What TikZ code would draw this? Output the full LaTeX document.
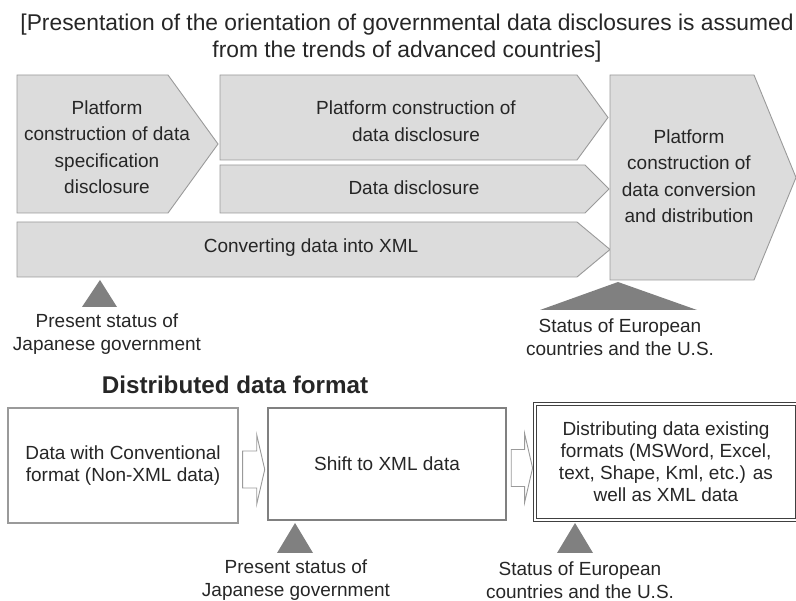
\documentclass[tikz,border=0pt]{standalone}
\usepackage{fontspec}
\setmainfont{Liberation Sans}
\usetikzlibrary{calc}

\definecolor{boxfill}{HTML}{DCDCDC}
\definecolor{boxline}{HTML}{9A9A9A}
\definecolor{markgray}{HTML}{808080}
\definecolor{ink}{HTML}{262626}

\tikzstyle{chev}=[fill=boxfill, draw=boxline, line width=0.9pt, line join=miter]
\tikzstyle{chevtext}=[align=center, text=ink, inner sep=0pt,
  font=\fontsize{19}{26.5}\selectfont]
\tikzstyle{status}=[align=center, text=ink, inner sep=0pt,
  font=\fontsize{19}{23}\selectfont]
\tikzstyle{format}=[draw=boxline, fill=white, line width=1.2pt, align=center,
  text=ink, font=\fontsize{19}{22}\selectfont]
\tikzstyle{hollow}=[draw=boxline, fill=white, line width=0.9pt, line join=miter]
\tikzstyle{tri}=[fill=markgray]
% left, top, right of the straight part, bottom, tip
\newcommand{\chevron}[5]{%
  \path[chev] (#1,#2) -- (#3,#2) -- (#5,{(#2+#4)/2}) -- (#3,#4) -- (#1,#4) -- cycle;}
% hollow block arrow from one format box to the next
\newcommand{\hollowarrow}[2]{%
  \path[hollow] let \p1=(#1.east), \p2=(#2.west) in
    (\x1+4pt,\y1+14.5pt) -- (\x2-10pt,\y1+14.5pt) -- (\x2-10pt,\y1+30.5pt)
    -- (\x2-2pt,\y1-4pt) -- (\x2-10pt,\y1-38.5pt) -- (\x2-10pt,\y1-22.5pt)
    -- (\x1+4pt,\y1-22.5pt) -- cycle;}

\begin{document}
\begin{tikzpicture}[x=1pt,y=-1pt]
\useasboundingbox (0,0) rectangle (796,601);

% Title
\node[chevtext, font=\fontsize{22.8}{27}\selectfont] (title) at (407,38)
  {[Presentation of the orientation of governmental data disclosures is assumed\\
   from the trends of advanced countries]};

% Draw chevrons
\chevron{17}{75}{168}{213}{218}
\chevron{220}{75}{577}{160}{608}
\chevron{220}{165}{585}{213}{609}
\chevron{17}{222}{577}{277}{610}
\chevron{610}{75}{754}{280}{796}

\node[chevtext] (p1) at (107,147) {Platform\\construction of data\\specification\\disclosure};
\node[chevtext] (p2) at (416,121) {Platform construction of\\data disclosure};
\node[chevtext] (p3) at (414,188) {Data disclosure};
\node[chevtext] (p4) at (311,248) {Converting data into XML};
\node[chevtext] (p5) at (689,176) {Platform\\construction of\\data conversion\\and distribution};

% Status marks
\fill[tri] (100,280) -- (117,307) -- (82,307) -- cycle;
\fill[tri] (618,282) -- (697,310) -- (540,310) -- cycle;
\node[status] (s1) at (107,334) {Present status of\\Japanese government};
\node[status] (s2) at (620,337) {Status of European\\countries and the U.S.};

% Distributed data format
\node[text=ink, inner sep=0pt, font=\fontsize{24.2}{28}\selectfont\bfseries]
  (t2) at (235,385) {Distributed data format};

\node[format, minimum width=230, minimum height=115] (f1) at (123,465.5)
  {Data with Conventional\\format (Non-XML data)};
\node[format, draw=black!50, line width=2.5pt, minimum width=238, minimum height=112]
  (f2) at (387,464) {Shift to XML data};
\node[format, draw=black!75, line width=0.8pt, double=white, double distance=2pt,
  minimum width=262, minimum height=116] (f3) at (666,462)
  {Distributing data existing\\formats (MSWord, Excel,\\text, Shape, Kml, etc.) as\\well as XML data};

% Draw arrows between elements
\hollowarrow{f1}{f2}
\hollowarrow{f2}{f3}

\fill[tri] (295,523) -- (313,553) -- (277,553) -- cycle;
\fill[tri] (575,523) -- (593,553) -- (557,553) -- cycle;
\node[status] (s3) at (296,580) {Present status of\\Japanese government};
\node[status] (s4) at (580,580) {Status of European\\countries and the U.S.};

\end{tikzpicture}
\end{document}
